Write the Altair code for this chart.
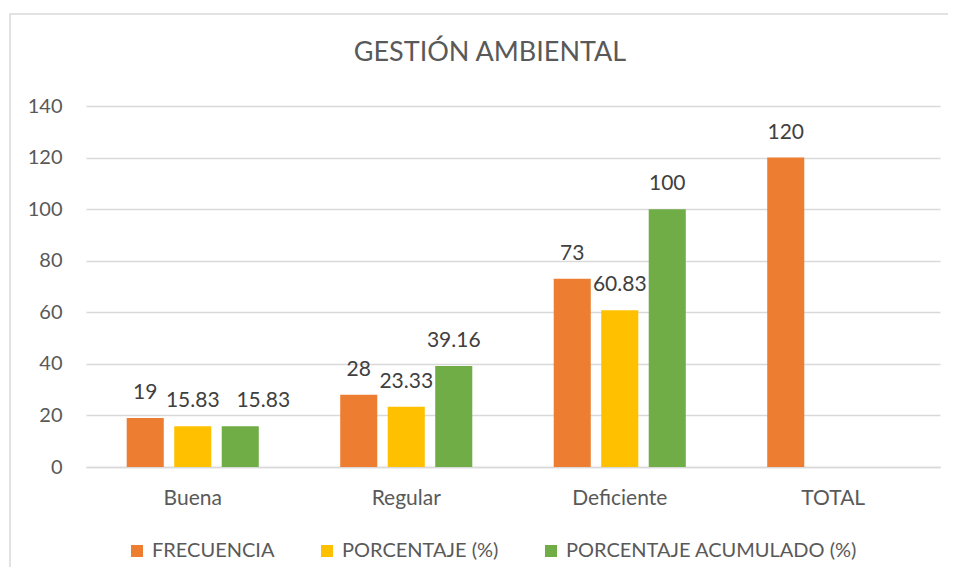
import altair as alt
import pandas as pd

categories = ["Buena", "Regular", "Deficiente", "TOTAL"]
series = ["FRECUENCIA", "PORCENTAJE (%)", "PORCENTAJE ACUMULADO (%)"]
frecuencia = [19, 28, 73, 120]
porcentaje = [15.83, 23.33, 60.83, None]
acumulado = [15.83, 39.16, 100, None]
colors = ["#ED7D31", "#FFC000", "#70AD47"]

rows = []
for i, cat in enumerate(categories):
    for s, vals in zip(series, [frecuencia, porcentaje, acumulado]):
        v = vals[i]
        if v is not None:
            rows.append({"categoria": cat, "serie": s, "valor": v, "etiqueta": f"{v:g}"})
df = pd.DataFrame(rows)

FONT = "Lato"
TXT = "#595959"

base = alt.Chart(df).encode(
    x=alt.X("categoria:N", sort=categories,
            scale=alt.Scale(paddingInner=0, paddingOuter=0),
            axis=alt.Axis(title=None, labelAngle=0, ticks=False, labelPadding=20,
                          domainColor="#D9D9D9", domainWidth=1.5, grid=False,
                          labelFontSize=21, labelColor=TXT, labelFont=FONT)),
    xOffset=alt.XOffset("serie:N", sort=series,
                        scale=alt.Scale(domain=series, paddingInner=0.22, paddingOuter=0.857)),
    y=alt.Y("valor:Q", scale=alt.Scale(domain=[0, 140], nice=False),
            axis=alt.Axis(title=None, values=[0, 20, 40, 60, 80, 100, 120, 140],
                          ticks=False, domain=False, labelPadding=24,
                          gridColor="#D9D9D9", gridWidth=1.5,
                          labelFontSize=20, labelColor=TXT, labelFont=FONT)),
)

bars = base.mark_bar().encode(
    color=alt.Color("serie:N", sort=series,
                    scale=alt.Scale(domain=series, range=colors),
                    legend=alt.Legend(title=None, orient="none", direction="horizontal",
                                      legendX=41, legendY=435, symbolType="square",
                                      symbolSize=144, symbolStrokeWidth=0,
                                      labelFontSize=20, labelColor=TXT, labelFont=FONT,
                                      labelLimit=500, labelOffset=5, columnPadding=42,
                                      padding=0))
)

is_shifted = (alt.datum.categoria == "Buena") & (alt.datum.serie == "PORCENTAJE ACUMULADO (%)")

labels = base.mark_text(baseline="middle", dy=-25, fontSize=21, color="#404040", font=FONT).encode(
    text="etiqueta:N"
).transform_filter(~is_shifted)

labels_shift = base.mark_text(baseline="middle", dy=-25, dx=23, fontSize=21, color="#404040",
                              font=FONT).encode(
    text="etiqueta:N"
).transform_filter(is_shifted)

border = alt.Chart(pd.DataFrame({"a": [0]})).mark_rect(
    fill=None, stroke="#D9D9D9", strokeWidth=1.5
).encode(x=alt.value(-76), x2=alt.value(900), y=alt.value(-92), y2=alt.value(500))

chart = alt.layer(border, bars, labels, labels_shift).properties(
    width=854, height=361,
    title=alt.Title("GESTIÓN AMBIENTAL", fontSize=27, font=FONT, fontWeight="normal",
                    color=TXT, anchor="middle", dx=-23, offset=-75, baseline="alphabetic"),
    autosize=alt.AutoSizeParams(type="none"),
    padding={"left": 78, "top": 98, "right": 8, "bottom": 100},
).configure_view(stroke=None)

chart.save("out.html", embed_options={"renderer": "svg", "actions": False})
